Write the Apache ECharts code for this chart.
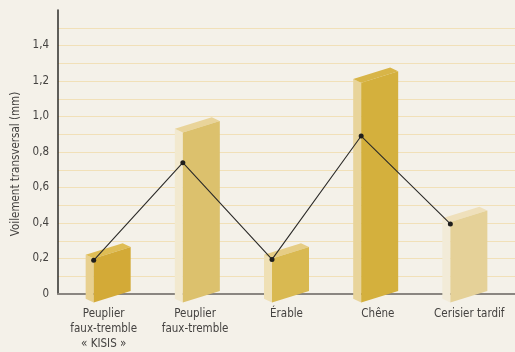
<!DOCTYPE html>
<html>
<head>
<meta charset="utf-8">
<script src="https://cdn.jsdelivr.net/npm/echarts@6/dist/echarts.min.js"></script>
<style>
  html, body { margin: 0; padding: 0; background: #f4f1e9; }
  #chart { width: 515px; height: 352px; }
</style>
</head>
<body>
<div id="chart"></div>
<script>
// Wood species and measured transverse warping (mm)
const species = ['Peuplier\nfaux-tremble\n« KISIS »', 'Peuplier\nfaux-tremble', 'Érable', 'Chêne', 'Cerisier tardif'];
const barValues = [0.2, 0.91, 0.2, 1.19, 0.405];
const lineValues = [0.19, 0.74, 0.195, 0.89, 0.395];
const yTickLabels = ['0', '0,2', '0,4', '0,6', '0,8', '1,0', '1,2', '1,4'];

// face colours for each block: front, left side, top
const barColors = [
  ['#d3aa37', '#e8d08f', '#dfbd55'],
  ['#dcc16d', '#f2e9cf', '#e9d49a'],
  ['#d9b951', '#efe0b5', '#e6cd85'],
  ['#d4b03d', '#e8d49b', '#d8b548'],
  ['#e5d198', '#f2ebd8', '#efe0bb']
];

const FONT = '"Liberation Sans Narrow", "DejaVu Sans Condensed", sans-serif';
const TEXT = '#444240';

// split lines every 0.1, the last one (top of axis) hidden
const gridColors = [];
for (let k = 0; k <= 16; k++) gridColors.push(k === 16 ? 'rgba(0,0,0,0)' : '#f1e0b8');

const chart = echarts.init(document.getElementById('chart'), null, { renderer: 'canvas' });

// pseudo-3D block: front face with a perspective slant, a side face and a top face
function renderBlock(params, api) {
  const i = api.value(0);
  const v = api.value(1);
  const top = api.coord([i, v]);
  const base = api.coord([i, 0]);
  const cols = barColors[params.dataIndex];
  const x0 = top[0], yT = top[1], yB = base[1] + 8.5;
  const W = 37, S = 11.5, dx = -8, dy = -3.8;
  return {
    type: 'group',
    children: [
      { type: 'polygon', shape: { points: [[x0 + dx, yT + dy], [x0, yT], [x0, yB], [x0 + dx, yB + dy]] },
        style: { fill: cols[1] } },
      { type: 'polygon', shape: { points: [[x0 + dx, yT + dy], [x0, yT], [x0 + W, yT - S], [x0 + W + dx, yT - S + dy]] },
        style: { fill: cols[2] } },
      { type: 'polygon', shape: { points: [[x0, yT], [x0 + W, yT - S], [x0 + W, yB - S], [x0, yB]] },
        style: { fill: cols[0] } }
    ]
  };
}

chart.setOption({
  backgroundColor: '#f4f1e9',
  animation: false,
  grid: { left: 58, right: 0, top: 10, bottom: 58 },
  xAxis: [
    {
      type: 'category',
      data: species,
      boundaryGap: true,
      axisLine: { show: true, onZero: false, lineStyle: { color: '#8a8681', width: 2 } },
      axisTick: { show: false },
      axisLabel: { color: TEXT, fontFamily: FONT, fontSize: 11.5, lineHeight: 15, margin: 13, interval: 0 },
      splitLine: { show: false }
    },
    {
      type: 'value',
      show: false,
      min: -0.4,
      max: 4.725,
      splitLine: { show: false }
    }
  ],
  yAxis: {
    type: 'value',
    min: 0,
    max: 1.6,
    interval: 0.1,
    name: 'Voilement transversal (mm)',
    nameLocation: 'middle',
    nameGap: 34,
    nameTextStyle: { color: TEXT, fontFamily: FONT, fontSize: 11.5, padding: [0, 24, 0, 0] },
    axisLine: { show: true, onZero: false, lineStyle: { color: '#2e2c2a', width: 1.5 } },
    axisTick: { show: false },
    axisLabel: {
      color: TEXT, fontFamily: FONT, fontSize: 11.5, margin: 9,
      formatter: function (val) {
        const k = Math.round(val * 10);
        if (k % 2 !== 0) return '';
        return yTickLabels[k / 2] || '';
      }
    },
    splitLine: { show: true, lineStyle: { color: gridColors, width: 1.2 } }
  },
  series: [
    {
      type: 'custom',
      xAxisIndex: 1,
      renderItem: renderBlock,
      data: barValues.map((v, i) => [i, v]),
      z: 2
    },
    {
      type: 'line',
      xAxisIndex: 1,
      data: lineValues.map((v, i) => [i, v]),
      symbol: 'circle',
      symbolSize: 5,
      lineStyle: { color: '#2b2a28', width: 1.1 },
      itemStyle: { color: '#1f1e1c' },
      z: 5
    }
  ]
});
</script>
</body>
</html>
